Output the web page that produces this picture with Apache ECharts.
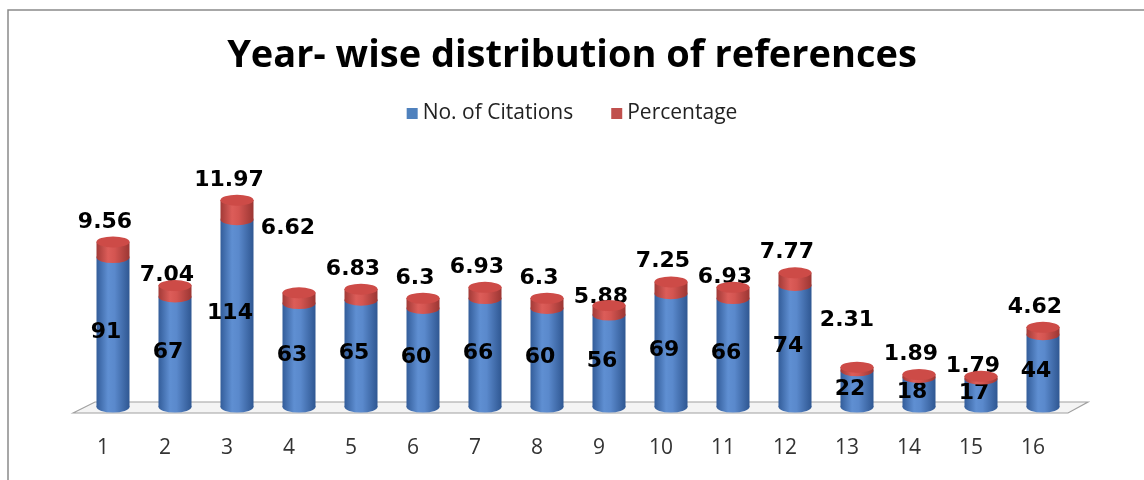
<!DOCTYPE html>
<html>
<head>
<meta charset="utf-8">
<script src="https://cdn.jsdelivr.net/npm/echarts@6/dist/echarts.min.js"></script>
<style>
  html, body { margin: 0; padding: 0; background: #fff; }
  #chart { width: 1144px; height: 480px; }
</style>
</head>
<body>
<div id="chart"></div>
<script>
// Year-wise reference counts and their share of the total
const categories = ['1','2','3','4','5','6','7','8','9','10','11','12','13','14','15','16'];
const citations  = [91, 67, 114, 63, 65, 60, 66, 60, 56, 69, 66, 74, 22, 18, 17, 44];
const percentage = [9.56, 7.04, 11.97, 6.62, 6.83, 6.3, 6.93, 6.3, 5.88, 7.25, 6.93, 7.77, 2.31, 1.89, 1.79, 4.62];

// small per-bar nudges for the percentage labels (pixels)
const pctLabelNudge = {
  1: [0, 10], 3: [-3, -44], 8: [0, 12], 10: [0, 10], 12: [-2, -27], 14: [0, 10]
};

const totals = citations.map((c, i) => +(c + percentage[i]).toFixed(2));

const blueGrad = new echarts.graphic.LinearGradient(0, 0, 1, 0, [
  { offset: 0, color: '#335d9a' },
  { offset: 0.35, color: '#5f8fd2' },
  { offset: 0.55, color: '#5a89cc' },
  { offset: 1, color: '#2f5792' }
]);
const redGrad = new echarts.graphic.LinearGradient(0, 0, 1, 0, [
  { offset: 0, color: '#a23a37' },
  { offset: 0.35, color: '#dc5d59' },
  { offset: 0.55, color: '#d45551' },
  { offset: 1, color: '#9b3633' }
]);

const BAR_W = 33;
const ELL_H = 11;
const labelFont = { fontFamily: 'DejaVu Sans', fontWeight: 'bold', fontSize: 22, color: '#000' };

const chart = echarts.init(document.getElementById('chart'));

chart.setOption({
  animation: false,
  backgroundColor: '#fff',
  title: {
    text: 'Year- wise distribution of references',
    left: 'center', top: 32,
    textStyle: { fontFamily: 'Open Sans', fontWeight: 'bold', fontSize: 38, color: '#000' }
  },
  legend: {
    top: 98, left: 'center',
    itemWidth: 11, itemHeight: 11, itemGap: 38,
    icon: 'rect',
    textStyle: { fontFamily: 'Open Sans', fontSize: 21, color: '#222' },
    data: [
      { name: 'No. of Citations', itemStyle: { color: '#4f81bd' } },
      { name: 'Percentage', itemStyle: { color: '#c0504d' } }
    ]
  },
  grid: { left: 82, right: 70, top: 177, bottom: 73 },
  xAxis: {
    type: 'category',
    data: categories,
    axisLine: { show: false },
    axisTick: { show: false },
    axisLabel: {
      margin: 31, fontFamily: 'Open Sans', fontSize: 21, color: '#333',
      padding: [0, 20, 0, 0]
    }
  },
  yAxis: {
    type: 'value', min: 0, max: 140, show: false,
    splitLine: { show: false }
  },
  series: [
    {
      // rounded base of each cylinder
      type: 'pictorialBar', name: 'base',
      symbol: 'circle', symbolSize: [BAR_W, ELL_H], symbolPosition: 'start',
      symbolOffset: [0, '50%'],
      z: 1, silent: true,
      itemStyle: { color: blueGrad },
      data: citations.map(() => 0)
    },
    {
      name: 'No. of Citations', type: 'bar', stack: 'total',
      barWidth: BAR_W, z: 2,
      itemStyle: { color: blueGrad },
      label: { show: true, position: 'inside', offset: [-7, 0], ...labelFont },
      data: citations
    },
    {
      // curved lower edge of the red band
      type: 'pictorialBar', name: 'seam',
      symbol: 'circle', symbolSize: [BAR_W, ELL_H], symbolPosition: 'end',
      symbolOffset: [0, '-50%'],
      z: 3, silent: true,
      itemStyle: { color: redGrad },
      data: citations
    },
    {
      name: 'Percentage', type: 'bar', stack: 'total',
      barWidth: BAR_W, z: 4,
      itemStyle: { color: redGrad },
      label: { show: true, position: 'top', distance: 9, offset: [-8, 0], ...labelFont },
      data: percentage.map((v, i) => {
        const n = pctLabelNudge[i];
        return n ? { value: v, label: { offset: [-8 + n[0], n[1]] } } : v;
      })
    },
    {
      // flat top of each cylinder
      type: 'pictorialBar', name: 'cap',
      symbol: 'circle', symbolSize: [BAR_W, ELL_H], symbolPosition: 'end',
      symbolOffset: [0, '-50%'],
      z: 5, silent: true,
      itemStyle: { color: '#cd4b47', borderColor: '#b13f3c', borderWidth: 0.6 },
      data: totals
    }
  ]
});

// frame and 3D floor under the cylinders
const first = chart.convertToPixel({ xAxisIndex: 0, yAxisIndex: 0 }, [0, 0]);
const last = chart.convertToPixel({ xAxisIndex: 0, yAxisIndex: 0 }, [categories.length - 1, 0]);
chart.setOption({
  graphic: [
    {
      type: 'rect', z: -1, silent: true,
      shape: { x: 8, y: 10, width: 1160, height: 500 },
      style: { fill: 'none', stroke: '#8a8a8a', lineWidth: 1.5 }
    },
    {
      type: 'polygon', z: 0, silent: true,
      shape: {
        points: [
          [first[0] - 40, first[1] + 6],
          [first[0] - 18, first[1] - 5],
          [last[0] + 45, last[1] - 5],
          [last[0] + 25, last[1] + 6]
        ]
      },
      style: { fill: '#f4f4f4', stroke: '#a0a0a0', lineWidth: 1.2 }
    }
  ]
});
</script>
</body>
</html>
